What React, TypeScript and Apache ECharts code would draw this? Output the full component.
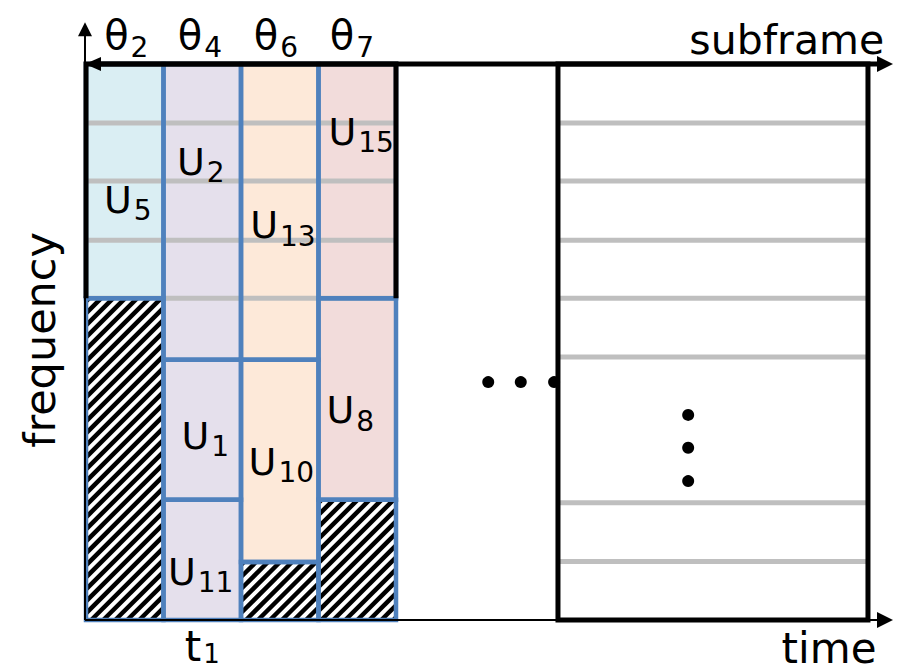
import React, { useEffect, useRef } from 'react';
import * as echarts from 'echarts';

const FONT = '"DejaVu Sans", sans-serif';

// x = time in slot units (one column per slot), y = frequency in resource-block units
const thetaSubs = ['2', '4', '6', '7'];
const thetaX = [0.52, 1.47, 2.45, 3.43];
const thetaY = 9.98;

// user allocations: [x0, x1, y0, y1]
const allocRects = [
  [0, 1, 5.49, 9.49], // U5
  [1, 2, 4.44, 9.49], // U2
  [2, 3, 4.44, 9.49], // U13
  [3, 4, 5.49, 9.49], // U15
  [1, 2, 2.05, 4.44], // U1
  [2, 3, 0.99, 4.44], // U10
  [3, 4, 2.05, 5.49], // U8
  [1, 2, 0, 2.05], // U11
];
const allocFill = ['#daeef3', '#e5e0ec', '#fde9d9', '#f2dcdb', '#e5e0ec', '#fde9d9', '#f2dcdb', '#e5e0ec'];
const userSubs = ['5', '2', '13', '15', '1', '10', '8', '11'];
const userLabelX = [0.54, 1.48, 2.54, 3.55, 1.54, 2.52, 3.41, 1.48];
const userLabelY = [7.17, 7.82, 6.74, 8.33, 3.14, 2.7, 3.58, 0.82];

// unused (hatched) resources: [x0, x1, y0, y1]
const hatchRects = [
  [0, 1, 0, 5.49],
  [2, 3, 0, 0.99],
  [3, 4, 0, 2.05],
];

// resource-block boundaries
const leftRbLines = [8.48, 7.49, 6.48, 5.49];
const rightRbLines = [8.48, 7.49, 6.48, 5.49, 4.49, 2.0, 1.0];
const leftBlock = [0, 4, 0, 9.49];
const rightBlock = [6.09, 10.09, 0, 9.49];
const hDots = [[5.19, 4.06], [5.61, 4.06], [6.04, 4.06]];
const vDots = [[7.77, 3.5], [7.77, 2.94], [7.77, 2.37]];

// axes
const axisOrigin = [-0.013, 0];
const timeAxisEnd = 10.413;
const freqAxisEnd = 10.2;
const subframeY = 9.49;

// text anchors
const t1Pos = [1.5, -0.46];
const timePos = [10.2, -0.48];
const subframePos = [10.3, 9.9];
const freqPos = [-0.59, 4.78];

const X_MIN = -86 / 77.5;
const X_MAX = (900 - 86) / 77.5;
const Y_MIN = -(672 - 620) / 58.6;
const Y_MAX = 620 / 58.6;

const BLUE = '#4f81bd';
const GRAY = '#bfbfbf';

function rectShape(api: any, r: number[]) {
  const p0 = api.coord([r[0], r[3]]);
  const p1 = api.coord([r[1], r[2]]);
  return { x: p0[0], y: p0[1], width: p1[0] - p0[0], height: p1[1] - p0[1] };
}

function subText(main: string, sub: string, mainSize: number, subSize: number, drop: number) {
  return {
    text: `{m|${main}}{s|${sub}}`,
    rich: {
      m: { fontSize: mainSize, fontFamily: FONT, fill: '#000' },
      s: { fontSize: subSize, fontFamily: FONT, fill: '#000', padding: [drop, 0, 0, 2] },
    },
    align: 'center',
    verticalAlign: 'middle',
  };
}

export default function App() {
  const ref = useRef<HTMLDivElement>(null);
  useEffect(() => {
    if (!ref.current) return;
    const chart = echarts.init(ref.current, null, { renderer: 'svg' });
    const base = {
      type: 'custom',
      coordinateSystem: 'cartesian2d',
      clip: false,
      silent: true,
      encode: { x: 0, y: 1 },
    };
    const option: any = {
      animation: false,
      backgroundColor: '#fff',
      grid: { left: 0, right: 0, top: 0, bottom: 0 },
      xAxis: { type: 'value', min: X_MIN, max: X_MAX, show: false },
      yAxis: { type: 'value', min: Y_MIN, max: Y_MAX, show: false },
      series: [
        {
          ...base,
          z: 1,
          data: allocRects.map((r) => [r[0], r[2]]),
          renderItem: (params: any, api: any) => ({
            type: 'rect',
            shape: rectShape(api, allocRects[params.dataIndex]),
            style: { fill: allocFill[params.dataIndex] },
          }),
        },
        {
          ...base,
          z: 2,
          data: [[0, 0], [1, 0]],
          renderItem: (params: any, api: any) => {
            const lines = params.dataIndex === 0 ? leftRbLines : rightRbLines;
            const blk = params.dataIndex === 0 ? leftBlock : rightBlock;
            return {
              type: 'group',
              children: lines.map((y) => {
                const a = api.coord([blk[0], y]);
                const b = api.coord([blk[1], y]);
                return {
                  type: 'line',
                  shape: { x1: a[0], y1: a[1], x2: b[0], y2: b[1] },
                  style: { stroke: GRAY, lineWidth: 5 },
                };
              }),
            };
          },
        },
        {
          ...base,
          z: 3,
          data: hatchRects.map((r) => [r[0], r[2]]),
          renderItem: (params: any, api: any) => {
            const s = rectShape(api, hatchRects[params.dataIndex]);
            const x0 = s.x, x1 = s.x + s.width, y0 = s.y, y1 = s.y + s.height;
            const children: any[] = [
              { type: 'rect', shape: s, style: { fill: '#fff' } },
            ];
            const step = 12;
            for (let c = x0 + y0 + 3; c < x1 + y1; c += step) {
              const xa = Math.max(x0, c - y1);
              const xb = Math.min(x1, c - y0);
              if (xb <= xa) continue;
              children.push({
                type: 'line',
                shape: { x1: xa, y1: c - xa, x2: xb, y2: c - xb },
                style: { stroke: '#000', lineWidth: 4.5 },
              });
            }
            return { type: 'group', children };
          },
        },
        {
          ...base,
          z: 4,
          data: [...allocRects, ...hatchRects].map((r) => [r[0], r[2]]),
          renderItem: (params: any, api: any) => {
            const all = [...allocRects, ...hatchRects];
            return {
              type: 'rect',
              shape: rectShape(api, all[params.dataIndex]),
              style: { fill: 'none', stroke: BLUE, lineWidth: 4.5 },
            };
          },
        },
        {
          ...base,
          z: 5,
          data: [[0, 0]],
          renderItem: (params: any, api: any) => {
            const children: any[] = [];
            const pts = [
              [leftBlock[0], 5.49],
              [leftBlock[0], leftBlock[3]],
              [leftBlock[1], leftBlock[3]],
              [leftBlock[1], 5.49],
            ].map((p) => api.coord(p));
            children.push({ type: 'polyline', shape: { points: pts }, style: { stroke: '#000', lineWidth: 5, fill: 'none' } });
            children.push({ type: 'rect', shape: rectShape(api, rightBlock), style: { fill: 'none', stroke: '#000', lineWidth: 5 } });
            const o = api.coord(axisOrigin);
            const fy = api.coord([axisOrigin[0], freqAxisEnd]);
            children.push({ type: 'line', shape: { x1: o[0], y1: o[1], x2: fy[0], y2: fy[1] + 12 }, style: { stroke: '#000', lineWidth: 2 } });
            children.push({ type: 'polygon', shape: { points: [[fy[0], fy[1]], [fy[0] - 7, fy[1] + 14], [fy[0] + 7, fy[1] + 14]] }, style: { fill: '#000' } });
            const tx = api.coord([timeAxisEnd, 0]);
            children.push({ type: 'line', shape: { x1: o[0], y1: o[1], x2: tx[0] - 12, y2: tx[1] }, style: { stroke: '#000', lineWidth: 2 } });
            children.push({ type: 'polygon', shape: { points: [[tx[0], tx[1]], [tx[0] - 16, tx[1] - 8], [tx[0] - 16, tx[1] + 8]] }, style: { fill: '#000' } });
            const sa = api.coord([axisOrigin[0], subframeY]);
            const sb = api.coord([timeAxisEnd, subframeY]);
            children.push({ type: 'line', shape: { x1: sa[0] + 10, y1: sa[1], x2: sb[0] - 10, y2: sb[1] }, style: { stroke: '#000', lineWidth: 5 } });
            children.push({ type: 'polygon', shape: { points: [[sb[0], sb[1]], [sb[0] - 16, sb[1] - 8], [sb[0] - 16, sb[1] + 8]] }, style: { fill: '#000' } });
            children.push({ type: 'polygon', shape: { points: [[sa[0], sa[1]], [sa[0] + 16, sa[1] - 7], [sa[0] + 16, sa[1] + 7]] }, style: { fill: '#000' } });
            return { type: 'group', children };
          },
        },
        {
          ...base,
          z: 6,
          data: [...hDots, ...vDots],
          renderItem: (params: any, api: any) => {
            const p = api.coord([api.value(0), api.value(1)]);
            return { type: 'circle', shape: { cx: p[0], cy: p[1], r: 6 }, style: { fill: '#000' } };
          },
        },
        {
          ...base,
          z: 7,
          data: userSubs.map((_, i) => [userLabelX[i], userLabelY[i]]),
          renderItem: (params: any, api: any) => {
            const p = api.coord([api.value(0), api.value(1)]);
            return { type: 'text', x: p[0], y: p[1], style: subText('U', userSubs[params.dataIndex], 38, 28, 22) };
          },
        },
        {
          ...base,
          z: 7,
          data: thetaSubs.map((_, i) => [thetaX[i], thetaY]),
          renderItem: (params: any, api: any) => {
            const p = api.coord([api.value(0), api.value(1)]);
            return { type: 'text', x: p[0], y: p[1], style: subText('θ', thetaSubs[params.dataIndex], 40, 28, 24) };
          },
        },
        {
          ...base,
          z: 7,
          data: [[0, 0]],
          renderItem: (params: any, api: any) => {
            const t1 = api.coord(t1Pos);
            const tm = api.coord(timePos);
            const sf = api.coord(subframePos);
            const fq = api.coord(freqPos);
            return {
              type: 'group',
              children: [
                { type: 'text', x: t1[0], y: t1[1], style: subText('t', '1', 42, 26, 14) },
                { type: 'text', x: tm[0], y: tm[1], style: { text: 'time', fontSize: 42, fontFamily: FONT, fill: '#000', align: 'right', verticalAlign: 'middle' } },
                { type: 'text', x: sf[0], y: sf[1], style: { text: 'subframe', fontSize: 41, fontFamily: FONT, fill: '#000', align: 'right', verticalAlign: 'middle' } },
                { type: 'text', x: fq[0], y: fq[1], rotation: Math.PI / 2, style: { text: 'frequency', fontSize: 43, fontFamily: FONT, fill: '#000', align: 'center', verticalAlign: 'middle' } },
              ],
            };
          },
        },
      ],
    };
    chart.setOption(option);
    return () => chart.dispose();
  }, []);
  return <div ref={ref} style={{ position: 'fixed', left: 0, top: 0, width: 900, height: 672 }} />;
}
